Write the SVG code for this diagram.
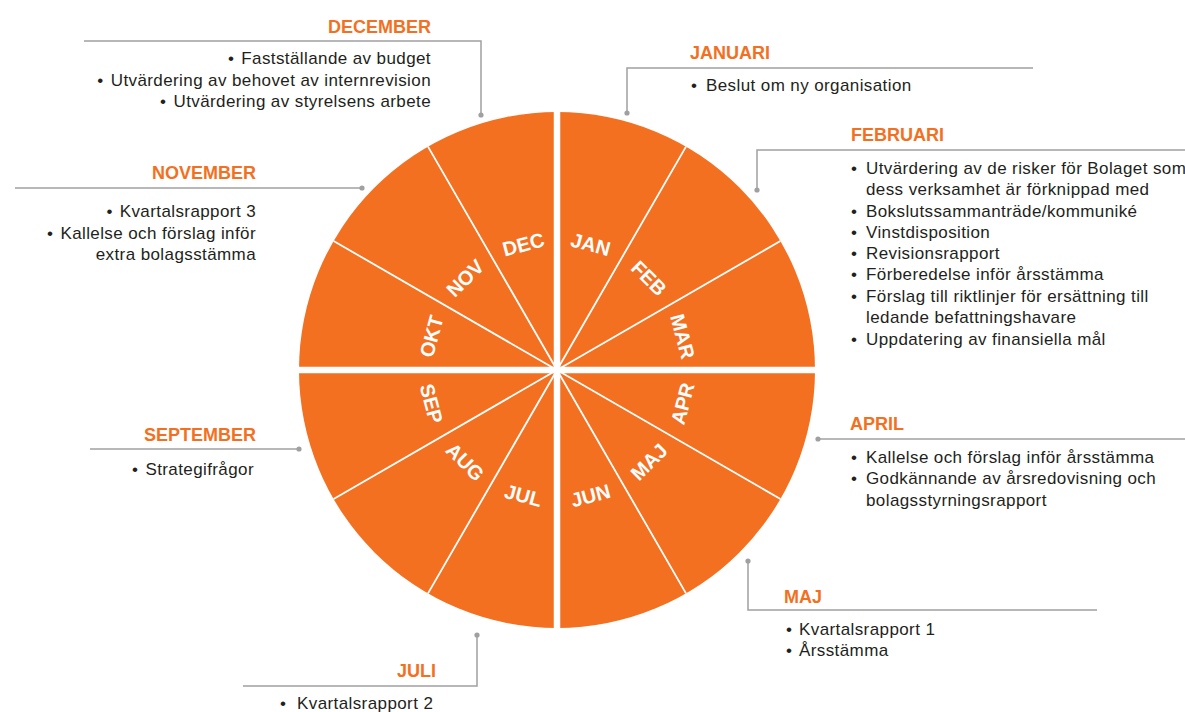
<svg xmlns="http://www.w3.org/2000/svg" width="1185" height="712" viewBox="0 0 1185 712">
<style>
.hd{font-family:"Liberation Sans",Arial,sans-serif;font-weight:bold;font-size:18px;fill:#F37021}
.bd{font-family:"Liberation Sans",Arial,sans-serif;font-size:17px;letter-spacing:0.4px;fill:#231F20}
.mo{font-family:"Liberation Sans",Arial,sans-serif;font-weight:bold;font-size:20px;fill:#FFFFFF;text-anchor:middle}
.ln{fill:none;stroke:#A0A0A0;stroke-width:1.5}
.dot{fill:#A0A0A0}
.thin{stroke:#FFFFFF;stroke-width:1.8}
.thick{stroke:#FFFFFF;stroke-width:6.5}
</style>
<rect width="1185" height="712" fill="#FFFFFF"/>
<g id="wheel">
<circle cx="557" cy="370" r="258" fill="#F37021"/>
<line class="thin" x1="686" y1="146.6" x2="428" y2="593.4"/>
<line class="thin" x1="780.4" y1="241" x2="333.6" y2="499"/>
<line class="thin" x1="780.4" y1="499" x2="333.6" y2="241"/>
<line class="thin" x1="686" y1="593.4" x2="428" y2="146.6"/>
<line class="thick" x1="557" y1="108" x2="557" y2="632"/>
<line class="thick" x1="295" y1="370" x2="819" y2="370"/>
<g id="m-jan"><text class="mo" transform="translate(590.6 244.4) rotate(15)" dy="0.35em">JAN</text></g>
<g id="m-feb"><text class="mo" transform="translate(648.9 278.1) rotate(45)" dy="0.35em">FEB</text></g>
<g id="m-mar"><text class="mo" transform="translate(682.6 336.4) rotate(75)" dy="0.35em">MAR</text></g>
<g id="m-apr"><text class="mo" transform="translate(682.6 403.6) rotate(-75)" dy="0.35em">APR</text></g>
<g id="m-maj"><text class="mo" transform="translate(648.9 461.9) rotate(-45)" dy="0.35em">MAJ</text></g>
<g id="m-jun"><text class="mo" transform="translate(590.6 495.6) rotate(-15)" dy="0.35em">JUN</text></g>
<g id="m-jul"><text class="mo" transform="translate(523.4 495.6) rotate(15)" dy="0.35em">JUL</text></g>
<g id="m-aug"><text class="mo" transform="translate(465.1 461.9) rotate(45)" dy="0.35em">AUG</text></g>
<g id="m-sep"><text class="mo" transform="translate(431.4 403.6) rotate(75)" dy="0.35em">SEP</text></g>
<g id="m-okt"><text class="mo" transform="translate(431.4 336.4) rotate(-75)" dy="0.35em">OKT</text></g>
<g id="m-nov"><text class="mo" transform="translate(465.1 278.1) rotate(-45)" dy="0.35em">NOV</text></g>
<g id="m-dec"><text class="mo" transform="translate(523.4 244.4) rotate(-15)" dy="0.35em">DEC</text></g>
</g>
<g id="connectors">
<polyline class="ln" points="84,41 481,41 481,115"/>
<circle class="dot" cx="481" cy="115" r="2.6"/>
<polyline class="ln" points="1033,68 627,68 627,113"/>
<circle class="dot" cx="627" cy="113" r="2.6"/>
<polyline class="ln" points="1185,150 757,150 757,190"/>
<circle class="dot" cx="757" cy="190" r="2.6"/>
<polyline class="ln" points="15,188 362,188"/>
<circle class="dot" cx="362" cy="188" r="2.6"/>
<polyline class="ln" points="90,449 299,449"/>
<circle class="dot" cx="299" cy="449" r="2.6"/>
<polyline class="ln" points="1185,439 818,439"/>
<circle class="dot" cx="818" cy="439" r="2.6"/>
<polyline class="ln" points="748,561 748,610 1097,610"/>
<circle class="dot" cx="748" cy="561" r="2.6"/>
<polyline class="ln" points="477,635 477,686 243,686"/>
<circle class="dot" cx="477" cy="635" r="2.6"/>
</g>
<g id="december">
<text class="hd" x="431" y="33" text-anchor="end">DECEMBER</text>
<text class="bd" x="431" y="64" text-anchor="end"><tspan>•</tspan><tspan dx="7">Fastställande av budget</tspan></text>
<text class="bd" x="431" y="86" text-anchor="end"><tspan>•</tspan><tspan dx="7">Utvärdering av behovet av internrevision</tspan></text>
<text class="bd" x="431" y="107" text-anchor="end"><tspan>•</tspan><tspan dx="7">Utvärdering av styrelsens arbete</tspan></text>
</g>
<g id="januari">
<text class="hd" x="690" y="59">JANUARI</text>
<text class="bd" y="91"><tspan x="691">•</tspan><tspan x="706">Beslut om ny organisation</tspan></text>
</g>
<g id="februari">
<text class="hd" x="851" y="141">FEBRUARI</text>
<text class="bd" y="173.5"><tspan x="851">•</tspan><tspan x="866">Utvärdering av de risker för Bolaget som</tspan></text>
<text class="bd" x="866" y="195">dess verksamhet är förknippad med</text>
<text class="bd" y="216.5"><tspan x="851">•</tspan><tspan x="866">Bokslutssammanträde/kommuniké</tspan></text>
<text class="bd" y="237.5"><tspan x="851">•</tspan><tspan x="866">Vinstdisposition</tspan></text>
<text class="bd" y="259"><tspan x="851">•</tspan><tspan x="866">Revisionsrapport</tspan></text>
<text class="bd" y="280"><tspan x="851">•</tspan><tspan x="866">Förberedelse inför årsstämma</tspan></text>
<text class="bd" y="301.5"><tspan x="851">•</tspan><tspan x="866">Förslag till riktlinjer för ersättning till</tspan></text>
<text class="bd" x="866" y="323">ledande befattningshavare</text>
<text class="bd" y="344.5"><tspan x="851">•</tspan><tspan x="866">Uppdatering av finansiella mål</tspan></text>
</g>
<g id="november">
<text class="hd" x="256" y="179" text-anchor="end">NOVEMBER</text>
<text class="bd" x="256" y="216.5" text-anchor="end"><tspan>•</tspan><tspan dx="7">Kvartalsrapport 3</tspan></text>
<text class="bd" x="256" y="238.5" text-anchor="end"><tspan>•</tspan><tspan dx="7">Kallelse och förslag inför</tspan></text>
<text class="bd" x="256" y="259.5" text-anchor="end">extra bolagsstämma</text>
</g>
<g id="september">
<text class="hd" x="256" y="441" text-anchor="end">SEPTEMBER</text>
<text class="bd" x="254" y="474.5" text-anchor="end"><tspan>•</tspan><tspan dx="7">Strategifrågor</tspan></text>
</g>
<g id="april">
<text class="hd" x="850" y="430">APRIL</text>
<text class="bd" y="462.5"><tspan x="851">•</tspan><tspan x="866">Kallelse och förslag inför årsstämma</tspan></text>
<text class="bd" y="484"><tspan x="851">•</tspan><tspan x="866">Godkännande av årsredovisning och</tspan></text>
<text class="bd" x="866" y="505.5">bolagsstyrningsrapport</text>
</g>
<g id="maj">
<text class="hd" x="784" y="603">MAJ</text>
<text class="bd" y="634.5"><tspan x="786">•</tspan><tspan x="799">Kvartalsrapport 1</tspan></text>
<text class="bd" y="655.5"><tspan x="786">•</tspan><tspan x="799">Årsstämma</tspan></text>
</g>
<g id="juli">
<text class="hd" x="436" y="677" text-anchor="end">JULI</text>
<text class="bd" y="709"><tspan x="280">•</tspan><tspan x="297">Kvartalsrapport 2</tspan></text>
</g>
</svg>
